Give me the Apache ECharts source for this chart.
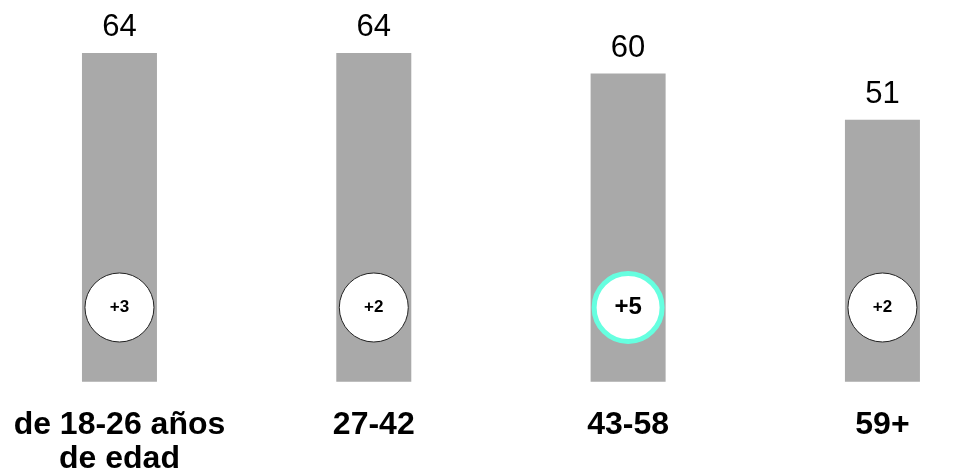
<!DOCTYPE html>
<html>
<head>
<meta charset="utf-8">
<script src="https://cdn.jsdelivr.net/npm/echarts@6/dist/echarts.min.js"></script>
<style>
  html, body { margin: 0; padding: 0; background: #fff; }
  #chart { width: 971px; height: 473px; }
</style>
</head>
<body>
<div id="chart"></div>
<script>
const categorias = ["de 18-26 años\nde edad", "27-42", "43-58", "59+"];
const valores = [64, 64, 60, 51];
const cambios = ["+3", "+2", "+5", "+2"];
const destacado = [false, false, true, false];

// altura (en unidades del eje) donde van los circulos
const nivelCirculo = 14.45;
const fuente = 'Arial, "Liberation Sans", sans-serif';

const chart = echarts.init(document.getElementById("chart"));

const circulos = cambios.map((c, i) => {
  if (destacado[i]) {
    return {
      value: [i, nivelCirculo],
      symbolSize: 68,
      itemStyle: { color: "#fff", borderColor: "#66ffe0", borderWidth: 5, opacity: 1 },
      label: { fontSize: 24 },
    };
  }
  return {
    value: [i, nivelCirculo],
    symbolSize: 69,
    itemStyle: { color: "#fff", borderColor: "#222", borderWidth: 1, opacity: 1 },
  };
});

const opciones = {
  animation: false,
  grid: { left: -7.7, width: 1017.3, top: 53, bottom: 91.3, outerBoundsMode: "none" },
  xAxis: {
    type: "category",
    data: categorias,
    axisLine: { show: false },
    axisTick: { show: false },
    axisLabel: {
      interval: 0,
      margin: 26,
      color: "#000",
      fontFamily: fuente,
      fontWeight: "bold",
      fontSize: 32,
      lineHeight: 34,
    },
  },
  yAxis: { type: "value", min: 0, max: 64, show: false },
  series: [
    {
      type: "bar",
      data: valores,
      barWidth: 75,
      itemStyle: { color: "#a9a9a9" },
      label: {
        show: true,
        position: "top",
        distance: 10,
        color: "#000",
        fontFamily: fuente,
        fontSize: 31,
      },
    },
    {
      type: "scatter",
      data: circulos,
      symbol: "circle",
      z: 5,
      label: {
        show: true,
        position: "inside",
        formatter: (p) => cambios[p.dataIndex],
        color: "#000",
        fontFamily: fuente,
        fontWeight: "bold",
        fontSize: 17,
      },
    },
  ],
};

chart.setOption(opciones);
</script>
</body>
</html>
